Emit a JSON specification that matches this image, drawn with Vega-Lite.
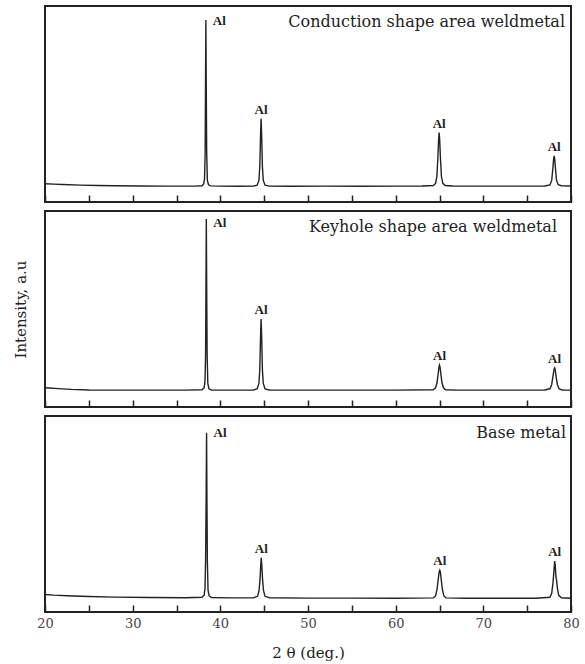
{
  "$schema": "https://vega.github.io/schema/vega-lite/v6.json",
  "background": "white",
  "padding": {"left": 12, "top": 5, "right": 6, "bottom": 5},
  "config": {
    "view": {"stroke": "#222", "strokeWidth": 2},
    "font": "DejaVu Serif",
    "axis": {"grid": false, "domain": false, "titleFontWeight": "normal", "titleColor": "#222", "labelColor": "#444"}
  },
  "datasets": {
    "xrd": [
      {"s":"c","x":20,"y":9.3},{"s":"c","x":21,"y":9.1},{"s":"c","x":22,"y":8.9},{"s":"c","x":24,"y":8.6},{"s":"c","x":26,"y":8.4},{"s":"c","x":28,"y":8.3},{"s":"c","x":31,"y":8.2},{"s":"c","x":34,"y":8.1},{"s":"c","x":37,"y":8.1},{"s":"c","x":37.9,"y":8.3},{"s":"c","x":38.1,"y":9.2},{"s":"c","x":38.2,"y":12},{"s":"c","x":38.27,"y":25},{"s":"c","x":38.31,"y":60},{"s":"c","x":38.35,"y":92.8},{"s":"c","x":38.39,"y":62},{"s":"c","x":38.44,"y":26},{"s":"c","x":38.52,"y":11},{"s":"c","x":38.65,"y":8.8},{"s":"c","x":38.9,"y":8.2},{"s":"c","x":40,"y":8.1},{"s":"c","x":42,"y":8.0},{"s":"c","x":43.8,"y":8.1},{"s":"c","x":44.2,"y":8.6},{"s":"c","x":44.4,"y":11},{"s":"c","x":44.5,"y":18},{"s":"c","x":44.58,"y":33},{"s":"c","x":44.65,"y":42.6},{"s":"c","x":44.72,"y":33},{"s":"c","x":44.8,"y":18},{"s":"c","x":44.9,"y":11},{"s":"c","x":45.1,"y":8.6},{"s":"c","x":45.6,"y":8.1},{"s":"c","x":48,"y":8.0},{"s":"c","x":52,"y":8.1},{"s":"c","x":56,"y":8.0},{"s":"c","x":60,"y":8.1},{"s":"c","x":63,"y":8.2},{"s":"c","x":64.3,"y":8.4},{"s":"c","x":64.55,"y":9.5},{"s":"c","x":64.7,"y":13},{"s":"c","x":64.82,"y":23},{"s":"c","x":64.9,"y":32},{"s":"c","x":64.96,"y":35.4},{"s":"c","x":65.02,"y":32},{"s":"c","x":65.1,"y":23},{"s":"c","x":65.22,"y":13},{"s":"c","x":65.38,"y":9.5},{"s":"c","x":65.65,"y":8.4},{"s":"c","x":66.5,"y":8.2},{"s":"c","x":70,"y":8.1},{"s":"c","x":74,"y":8.1},{"s":"c","x":77,"y":8.2},{"s":"c","x":77.6,"y":8.7},{"s":"c","x":77.8,"y":11},{"s":"c","x":77.93,"y":17},{"s":"c","x":78.02,"y":22},{"s":"c","x":78.08,"y":23.6},{"s":"c","x":78.14,"y":22},{"s":"c","x":78.23,"y":17},{"s":"c","x":78.35,"y":11},{"s":"c","x":78.55,"y":8.8},{"s":"c","x":78.9,"y":8.3},{"s":"c","x":80,"y":8.2},

      {"s":"k","x":20,"y":9.8},{"s":"k","x":20.5,"y":9.7},{"s":"k","x":21.5,"y":9.4},{"s":"k","x":23,"y":9.0},{"s":"k","x":25,"y":8.7},{"s":"k","x":28,"y":8.6},{"s":"k","x":32,"y":8.6},{"s":"k","x":36,"y":8.6},{"s":"k","x":37.9,"y":8.8},{"s":"k","x":38.15,"y":9.8},{"s":"k","x":38.25,"y":13},{"s":"k","x":38.32,"y":27},{"s":"k","x":38.36,"y":62},{"s":"k","x":38.4,"y":95.9},{"s":"k","x":38.44,"y":64},{"s":"k","x":38.49,"y":28},{"s":"k","x":38.57,"y":12},{"s":"k","x":38.7,"y":9.3},{"s":"k","x":39,"y":8.7},{"s":"k","x":41,"y":8.6},{"s":"k","x":43.8,"y":8.7},{"s":"k","x":44.2,"y":9.2},{"s":"k","x":44.4,"y":12},{"s":"k","x":44.5,"y":19},{"s":"k","x":44.58,"y":35},{"s":"k","x":44.65,"y":44.9},{"s":"k","x":44.72,"y":35},{"s":"k","x":44.8,"y":19},{"s":"k","x":44.9,"y":12},{"s":"k","x":45.1,"y":9.2},{"s":"k","x":45.6,"y":8.7},{"s":"k","x":50,"y":8.6},{"s":"k","x":55,"y":8.6},{"s":"k","x":60,"y":8.6},{"s":"k","x":64.3,"y":8.8},{"s":"k","x":64.55,"y":9.8},{"s":"k","x":64.72,"y":12.5},{"s":"k","x":64.85,"y":17},{"s":"k","x":64.94,"y":20.5},{"s":"k","x":65.0,"y":21.4},{"s":"k","x":65.06,"y":20.5},{"s":"k","x":65.15,"y":17},{"s":"k","x":65.28,"y":12.5},{"s":"k","x":65.45,"y":9.8},{"s":"k","x":65.7,"y":8.8},{"s":"k","x":67,"y":8.6},{"s":"k","x":72,"y":8.6},{"s":"k","x":77,"y":8.7},{"s":"k","x":77.6,"y":9.3},{"s":"k","x":77.8,"y":11.5},{"s":"k","x":77.95,"y":16},{"s":"k","x":78.07,"y":19.3},{"s":"k","x":78.13,"y":19.9},{"s":"k","x":78.2,"y":19},{"s":"k","x":78.3,"y":15.5},{"s":"k","x":78.45,"y":11.5},{"s":"k","x":78.65,"y":9.2},{"s":"k","x":79,"y":8.7},{"s":"k","x":80,"y":8.6},

      {"s":"b","x":20,"y":8.9},{"s":"b","x":21,"y":8.6},{"s":"b","x":22.5,"y":8.3},{"s":"b","x":25,"y":7.9},{"s":"b","x":28,"y":7.6},{"s":"b","x":32,"y":7.4},{"s":"b","x":36,"y":7.3},{"s":"b","x":37.9,"y":7.5},{"s":"b","x":38.15,"y":8.6},{"s":"b","x":38.25,"y":12},{"s":"b","x":38.32,"y":26},{"s":"b","x":38.38,"y":58},{"s":"b","x":38.43,"y":91.5},{"s":"b","x":38.47,"y":60},{"s":"b","x":38.52,"y":26},{"s":"b","x":38.6,"y":11},{"s":"b","x":38.72,"y":8.2},{"s":"b","x":39,"y":7.4},{"s":"b","x":41,"y":7.2},{"s":"b","x":43.8,"y":7.3},{"s":"b","x":44.25,"y":8},{"s":"b","x":44.42,"y":11},{"s":"b","x":44.53,"y":17},{"s":"b","x":44.61,"y":24},{"s":"b","x":44.67,"y":27.7},{"s":"b","x":44.73,"y":24},{"s":"b","x":44.81,"y":17},{"s":"b","x":44.92,"y":11},{"s":"b","x":45.1,"y":8},{"s":"b","x":45.6,"y":7.3},{"s":"b","x":50,"y":7.1},{"s":"b","x":55,"y":7.1},{"s":"b","x":60,"y":7.0},{"s":"b","x":64.3,"y":7.2},{"s":"b","x":64.55,"y":8.2},{"s":"b","x":64.72,"y":11.5},{"s":"b","x":64.85,"y":16.5},{"s":"b","x":64.96,"y":20.5},{"s":"b","x":65.03,"y":21.3},{"s":"b","x":65.1,"y":20.5},{"s":"b","x":65.2,"y":16.5},{"s":"b","x":65.33,"y":11.5},{"s":"b","x":65.5,"y":8.2},{"s":"b","x":65.75,"y":7.2},{"s":"b","x":68,"y":7.0},{"s":"b","x":72,"y":7.0},{"s":"b","x":76,"y":7.0},{"s":"b","x":77.6,"y":7.5},{"s":"b","x":77.8,"y":9.5},{"s":"b","x":77.95,"y":15},{"s":"b","x":78.07,"y":22},{"s":"b","x":78.14,"y":26},{"s":"b","x":78.2,"y":24},{"s":"b","x":78.28,"y":18},{"s":"b","x":78.36,"y":16},{"s":"b","x":78.45,"y":12},{"s":"b","x":78.6,"y":8.5},{"s":"b","x":78.9,"y":7.3},{"s":"b","x":80,"y":7.0}
    ],
    "peaks": [
      {"s":"c","x":38.35,"y":92.8,"kind":"main","t":"Al"},{"s":"c","x":44.65,"y":42.6,"kind":"minor","t":"Al"},{"s":"c","x":64.96,"y":35.4,"kind":"minor","t":"Al"},{"s":"c","x":78.08,"y":23.6,"kind":"minor","t":"Al"},
      {"s":"k","x":38.4,"y":95.9,"kind":"main","t":"Al"},{"s":"k","x":44.65,"y":44.9,"kind":"minor","t":"Al"},{"s":"k","x":65.0,"y":21.4,"kind":"minor","t":"Al"},{"s":"k","x":78.13,"y":19.9,"kind":"minor","t":"Al"},
      {"s":"b","x":38.43,"y":91.5,"kind":"main","t":"Al"},{"s":"b","x":44.67,"y":27.7,"kind":"minor","t":"Al"},{"s":"b","x":65.03,"y":21.3,"kind":"minor","t":"Al"},{"s":"b","x":78.14,"y":26,"kind":"minor","t":"Al"}
    ],
    "names": [
      {"s":"c","name":"Conduction shape area weldmetal"},
      {"s":"k","name":"Keyhole shape area weldmetal"},
      {"s":"b","name":"Base metal"}
    ]
  },
  "spacing": 9,
  "bounds": "flush",
  "vconcat": [
    {
      "width": 526, "height": 196,
      "layer": [
        {
          "data": {"name": "xrd"},
          "transform": [{"filter": "datum.s === 'c'"}],
          "mark": {"type": "line", "stroke": "#222", "strokeWidth": 1.4},
          "encoding": {
            "x": {"field": "x", "type": "quantitative", "scale": {"domain": [20, 80], "nice": false, "zero": false},
                  "axis": {"title": null, "labels": false, "values": [20,25,30,35,40,45,50,55,60,65,70,75,80], "tickColor": "#222", "tickWidth": 1.5, "tickSize": -7,
                           "encode": {"ticks": {"update": {"y2": {"signal": "datum.value % 10 === 0 ? -7 : -4"}}}}}},
            "y": {"field": "y", "type": "quantitative", "scale": {"domain": [0, 100], "nice": false}, "axis": null}
          }
        },
        {
          "data": {"name": "peaks"},
          "transform": [{"filter": "datum.s === 'c' && datum.kind === 'main'"}],
          "mark": {"type": "text", "align": "left", "baseline": "middle", "dx": 7, "dy": 1, "font": "Liberation Serif", "fontWeight": "bold", "fontSize": 13, "color": "#222"},
          "encoding": {"x": {"field": "x", "type": "quantitative"}, "y": {"field": "y", "type": "quantitative"}, "text": {"field": "t"}}
        },
        {
          "data": {"name": "peaks"},
          "transform": [{"filter": "datum.s === 'c' && datum.kind === 'minor'"}],
          "mark": {"type": "text", "align": "center", "baseline": "bottom", "dy": -2, "font": "Liberation Serif", "fontWeight": "bold", "fontSize": 13, "color": "#222"},
          "encoding": {"x": {"field": "x", "type": "quantitative"}, "y": {"field": "y", "type": "quantitative"}, "text": {"field": "t"}}
        },
        {
          "data": {"name": "names"},
          "transform": [{"filter": "datum.s === 'c'"}],
          "mark": {"type": "text", "align": "right", "baseline": "top", "dx": -6, "dy": 8, "fontSize": 16, "color": "#222"},
          "encoding": {"x": {"datum": 80, "type": "quantitative"}, "y": {"datum": 100, "type": "quantitative"}, "text": {"field": "name"}}
        }
      ]
    },
    {
      "width": 526, "height": 196,
      "layer": [
        {
          "data": {"name": "xrd"},
          "transform": [{"filter": "datum.s === 'k'"}],
          "mark": {"type": "line", "stroke": "#222", "strokeWidth": 1.4},
          "encoding": {
            "x": {"field": "x", "type": "quantitative", "scale": {"domain": [20, 80], "nice": false, "zero": false},
                  "axis": {"title": null, "labels": false, "values": [20,25,30,35,40,45,50,55,60,65,70,75,80], "tickColor": "#222", "tickWidth": 1.5, "tickSize": -7,
                           "encode": {"ticks": {"update": {"y2": {"signal": "datum.value % 10 === 0 ? -7 : -4"}}}}}},
            "y": {"field": "y", "type": "quantitative", "scale": {"domain": [0, 100], "nice": false},
                  "axis": {"title": "Intensity, a.u", "labels": false, "ticks": false, "titleFontSize": 15, "titlePadding": 17, "minExtent": 0}}
          }
        },
        {
          "data": {"name": "peaks"},
          "transform": [{"filter": "datum.s === 'k' && datum.kind === 'main'"}],
          "mark": {"type": "text", "align": "left", "baseline": "middle", "dx": 7, "dy": 4, "font": "Liberation Serif", "fontWeight": "bold", "fontSize": 13, "color": "#222"},
          "encoding": {"x": {"field": "x", "type": "quantitative"}, "y": {"field": "y", "type": "quantitative"}, "text": {"field": "t"}}
        },
        {
          "data": {"name": "peaks"},
          "transform": [{"filter": "datum.s === 'k' && datum.kind === 'minor'"}],
          "mark": {"type": "text", "align": "center", "baseline": "bottom", "dy": -2, "font": "Liberation Serif", "fontWeight": "bold", "fontSize": 13, "color": "#222"},
          "encoding": {"x": {"field": "x", "type": "quantitative"}, "y": {"field": "y", "type": "quantitative"}, "text": {"field": "t"}}
        },
        {
          "data": {"name": "names"},
          "transform": [{"filter": "datum.s === 'k'"}],
          "mark": {"type": "text", "align": "right", "baseline": "top", "dx": -14, "dy": 8, "fontSize": 16, "color": "#222"},
          "encoding": {"x": {"datum": 80, "type": "quantitative"}, "y": {"datum": 100, "type": "quantitative"}, "text": {"field": "name"}}
        }
      ]
    },
    {
      "width": 526, "height": 196,
      "layer": [
        {
          "data": {"name": "xrd"},
          "transform": [{"filter": "datum.s === 'b'"}],
          "mark": {"type": "line", "stroke": "#222", "strokeWidth": 1.4},
          "encoding": {
            "x": {"field": "x", "type": "quantitative", "scale": {"domain": [20, 80], "nice": false, "zero": false},
                  "axis": {"title": "2 θ (deg.)", "titleFontSize": 15, "titlePadding": 15, "values": [20,25,30,35,40,45,50,55,60,65,70,75,80],
                           "labelExpr": "datum.value % 10 === 0 ? datum.label : ''", "labelFontSize": 13, "labelPadding": 12, "labelFlush": false,
                           "tickColor": "#222", "tickWidth": 1.5, "tickSize": -7,
                           "encode": {"ticks": {"update": {"y2": {"signal": "datum.value % 10 === 0 ? -7 : -4"}}}}}},
            "y": {"field": "y", "type": "quantitative", "scale": {"domain": [0, 100], "nice": false}, "axis": null}
          }
        },
        {
          "data": {"name": "peaks"},
          "transform": [{"filter": "datum.s === 'b' && datum.kind === 'main'"}],
          "mark": {"type": "text", "align": "left", "baseline": "middle", "dx": 7, "dy": 0, "font": "Liberation Serif", "fontWeight": "bold", "fontSize": 13, "color": "#222"},
          "encoding": {"x": {"field": "x", "type": "quantitative"}, "y": {"field": "y", "type": "quantitative"}, "text": {"field": "t"}}
        },
        {
          "data": {"name": "peaks"},
          "transform": [{"filter": "datum.s === 'b' && datum.kind === 'minor'"}],
          "mark": {"type": "text", "align": "center", "baseline": "bottom", "dy": -2, "font": "Liberation Serif", "fontWeight": "bold", "fontSize": 13, "color": "#222"},
          "encoding": {"x": {"field": "x", "type": "quantitative"}, "y": {"field": "y", "type": "quantitative"}, "text": {"field": "t"}}
        },
        {
          "data": {"name": "names"},
          "transform": [{"filter": "datum.s === 'b'"}],
          "mark": {"type": "text", "align": "right", "baseline": "top", "dx": -5, "dy": 9, "fontSize": 16, "color": "#222"},
          "encoding": {"x": {"datum": 80, "type": "quantitative"}, "y": {"datum": 100, "type": "quantitative"}, "text": {"field": "name"}}
        }
      ]
    }
  ]
}
